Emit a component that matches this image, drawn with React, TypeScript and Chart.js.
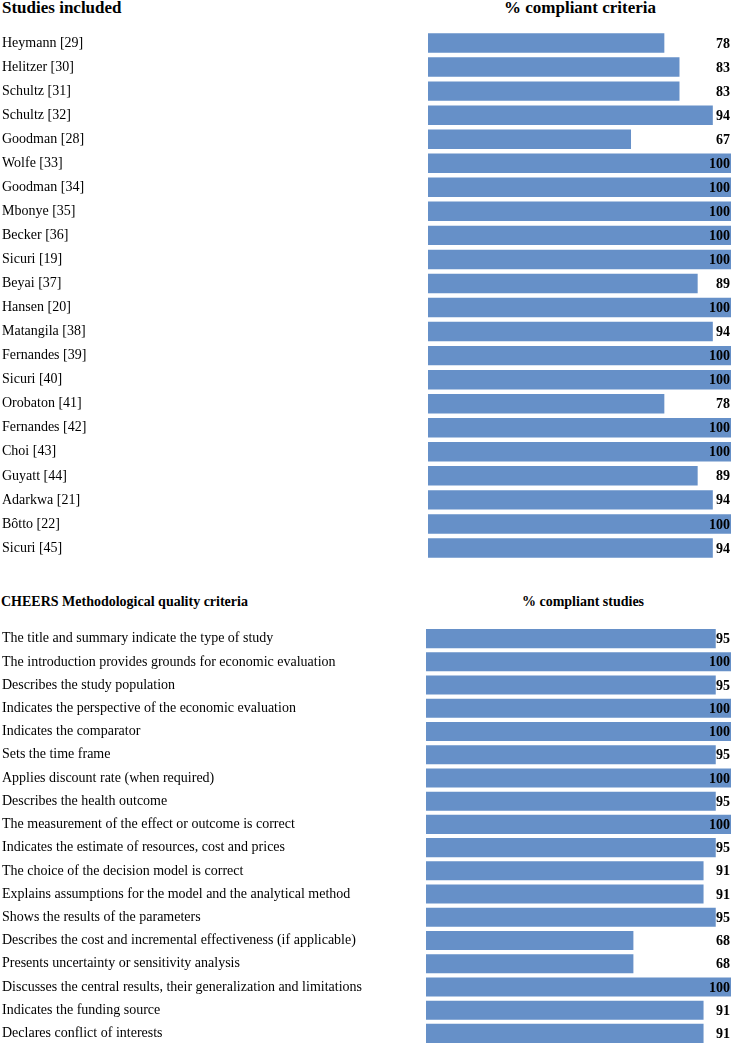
import React, { useEffect, useRef } from "react";
import { Chart, registerables } from "chart.js";

Chart.register(...registerables);

const studyLabels = [
  "Heymann [29]", "Helitzer [30]", "Schultz [31]", "Schultz [32]", "Goodman [28]",
  "Wolfe [33]", "Goodman [34]", "Mbonye [35]", "Becker [36]", "Sicuri [19]",
  "Beyai [37]", "Hansen [20]", "Matangila [38]", "Fernandes [39]", "Sicuri [40]",
  "Orobaton [41]", "Fernandes [42]", "Choi [43]", "Guyatt [44]", "Adarkwa [21]",
  "Bôtto [22]", "Sicuri [45]",
];
const studyValues = [78, 83, 83, 94, 67, 100, 100, 100, 100, 100, 89, 100, 94, 100, 100, 78, 100, 100, 89, 94, 100, 94];

const criteriaLabels = [
  "The title and summary indicate the type of study",
  "The introduction provides grounds for economic evaluation",
  "Describes the study population",
  "Indicates the perspective of the economic evaluation",
  "Indicates the comparator",
  "Sets the time frame",
  "Applies discount rate (when required)",
  "Describes the health outcome",
  "The measurement of the effect or outcome is correct",
  "Indicates the estimate of resources, cost and prices",
  "The choice of the decision model is correct",
  "Explains assumptions for the model and the analytical method",
  "Shows the results of the parameters",
  "Describes the cost and incremental effectiveness (if applicable)",
  "Presents uncertainty or sensitivity analysis",
  "Discusses the central results, their generalization and limitations",
  "Indicates the funding source",
  "Declares conflict of interests",
];
const criteriaValues = [95, 100, 95, 100, 100, 95, 100, 95, 100, 95, 91, 91, 95, 68, 68, 100, 91, 91];

const FONT = '"Liberation Serif", "Times New Roman", serif';
const BAR_COLOR = "rgb(102,144,200)";

const valueLabelPlugin = {
  id: "valueLabels",
  afterDatasetsDraw(chart: any) {
    const { ctx, chartArea } = chart;
    const meta = chart.getDatasetMeta(0);
    const data = chart.data.datasets[0].data;
    ctx.save();
    ctx.font = `bold 14px ${FONT}`;
    ctx.fillStyle = "#000";
    ctx.textAlign = "right";
    ctx.textBaseline = "middle";
    meta.data.forEach((bar: any, i: number) => {
      ctx.fillText(String(data[i]), chartArea.right - 1, bar.y + 1);
    });
    ctx.restore();
  },
};

function Panel(props: { labels: string[]; values: number[]; axisLeft: number; barPct: number; top: number; height: number; }) {
  const ref = useRef<HTMLCanvasElement>(null);
  useEffect(() => {
    const chart = new Chart(ref.current!, {
      type: "bar",
      data: {
        labels: props.labels,
        datasets: [{
          data: props.values,
          backgroundColor: BAR_COLOR,
          borderWidth: 0,
          barPercentage: props.barPct,
          categoryPercentage: 1,
        }],
      },
      options: {
        indexAxis: "y",
        animation: false,
        responsive: false,
        maintainAspectRatio: false,
        layout: { padding: { left: 2, right: 0, top: 0, bottom: 0 } },
        plugins: { legend: { display: false }, tooltip: { enabled: false } },
        scales: {
          x: { display: false, min: 0, max: 100 },
          y: {
            grid: { display: false },
            border: { display: false },
            ticks: {
              autoSkip: false,
              crossAlign: "far",
              color: "#000",
              padding: 0,
              font: { family: FONT, size: 14 },
            },
            afterFit(scale: any) {
              scale.width = props.axisLeft - 2;
              scale.paddingTop = 0;
              scale.paddingBottom = 0;
            },
          },
        },
      },
      plugins: [valueLabelPlugin],
    } as any);
    return () => chart.destroy();
  }, []);
  return (
    <canvas
      ref={ref}
      width={731}
      height={props.height}
      style={{ position: "absolute", left: 0, top: props.top, width: 731, height: props.height }}
    />
  );
}

export default function App() {
  useEffect(() => {
    document.body.style.margin = "0";
    document.body.style.overflow = "hidden";
  }, []);
  const headStyle: React.CSSProperties = {
    position: "absolute",
    fontFamily: FONT,
    fontWeight: "bold",
    color: "#000",
    whiteSpace: "nowrap",
    lineHeight: 1,
  };
  return (
    <div style={{ position: "relative", width: 731, height: 1043, overflow: "hidden", background: "#fff" }}>
      <div style={{ ...headStyle, left: 2, top: -1, fontSize: 17 }}>Studies included</div>
      <div style={{ ...headStyle, left: 580, top: -1, fontSize: 17, transform: "translateX(-50%)" }}>% compliant criteria</div>
      <Panel labels={studyLabels} values={studyValues} axisLeft={428} barPct={0.81} top={31} height={529} />
      <div style={{ ...headStyle, left: 1, top: 595, fontSize: 14 }}>CHEERS Methodological quality criteria</div>
      <div style={{ ...headStyle, left: 583, top: 595, fontSize: 14, transform: "translateX(-50%)" }}>% compliant studies</div>
      <Panel labels={criteriaLabels} values={criteriaValues} axisLeft={426} barPct={0.82} top={627} height={418} />
    </div>
  );
}
